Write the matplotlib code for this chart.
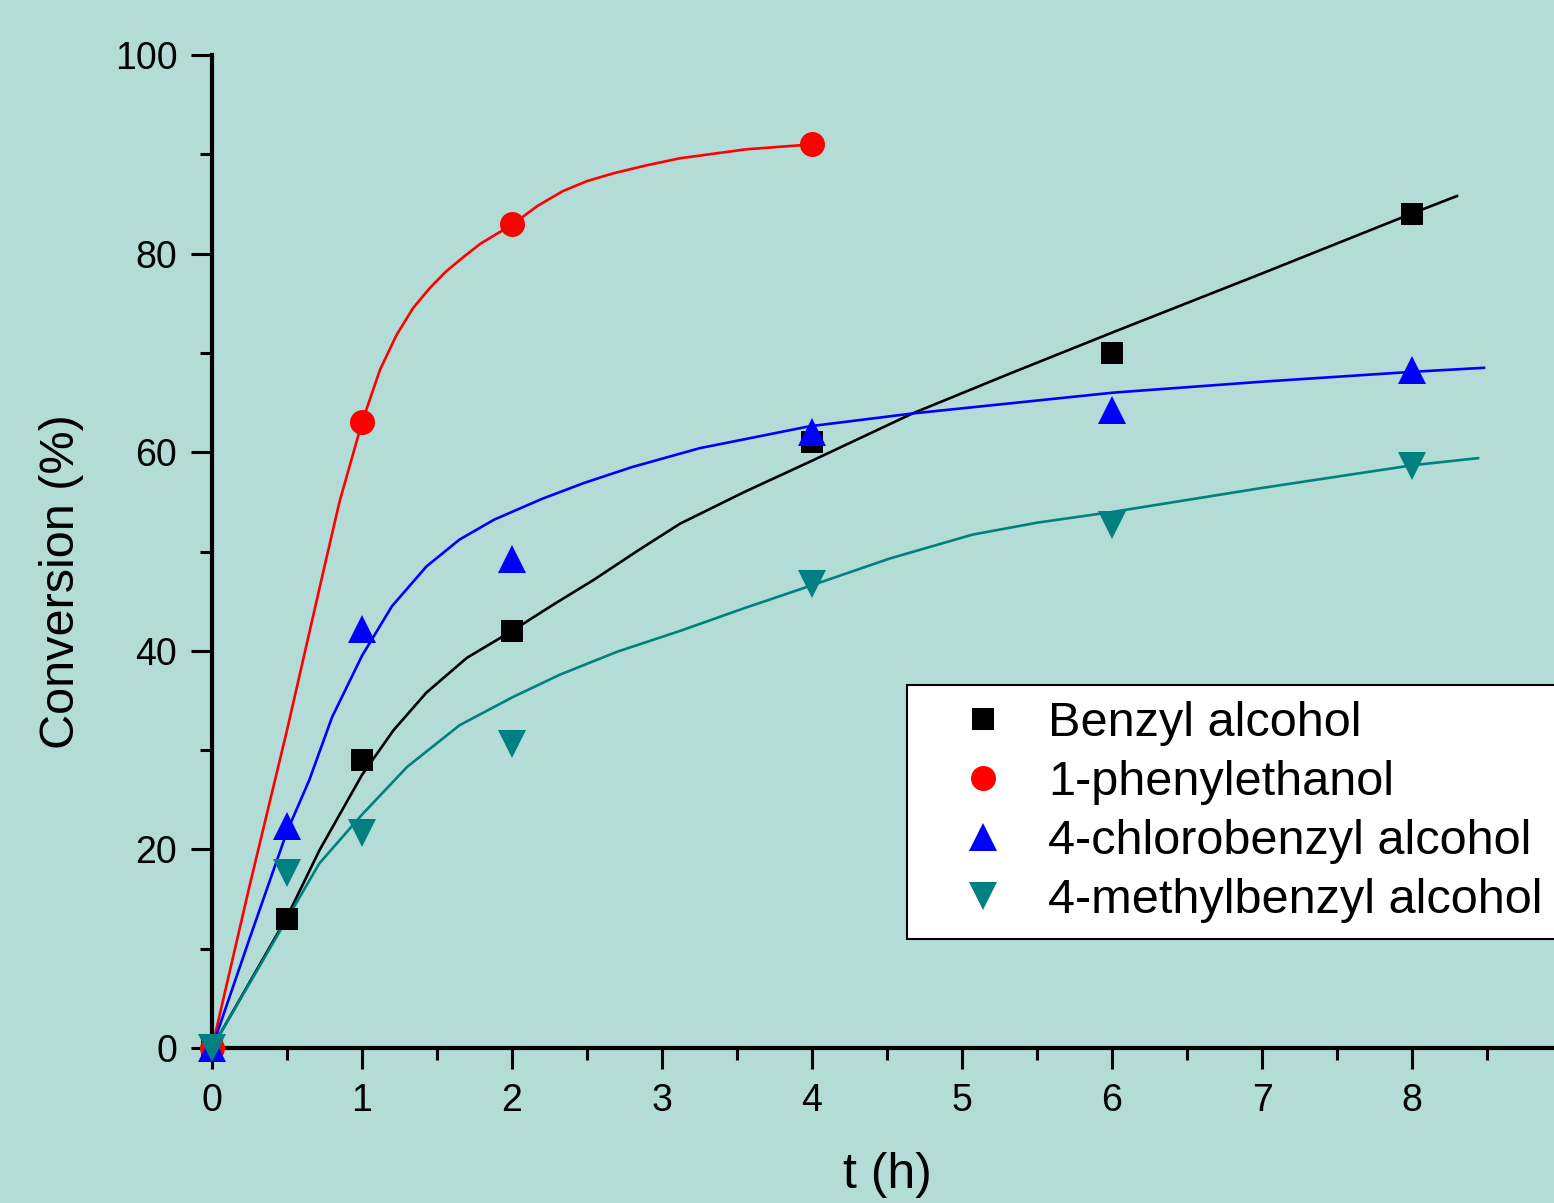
import matplotlib
matplotlib.use("Agg")
import matplotlib.pyplot as plt
from matplotlib.ticker import MultipleLocator

plt.rcParams['font.family'] = ['Liberation Sans', 'DejaVu Sans']

# ---- measured data points ----
t_benzyl = [0, 0.5, 1, 2, 4, 6, 8]
conv_benzyl = [0, 13, 29, 42, 61, 70, 84]
t_phenyl = [0, 1, 2, 4]
conv_phenyl = [0, 63, 83, 91]
t_chloro = [0, 0.5, 1, 2, 4, 6, 8]
conv_chloro = [0, 22.4, 42.2, 49.2, 62, 64.2, 68.3]
t_methyl = [0, 0.5, 1, 2, 4, 6, 8]
conv_methyl = [0, 17.6, 21.7, 30.6, 46.7, 52.7, 58.6]

# ---- fitted curves ----
fit_t_benzyl = [0, 0.25, 0.5, 0.716, 1.0, 1.21, 1.43, 1.7, 2.0, 2.27, 2.54, 2.83, 3.12, 3.55, 3.98, 4.67, 5.3, 6.01, 7.0, 8.01, 8.3]
fit_c_benzyl = [0, 6.6, 13.2, 19.9, 27.5, 32.0, 35.8, 39.3, 42.0, 44.6, 47.1, 50.0, 52.8, 56.0, 59.0, 63.9, 67.8, 72.1, 78.0, 84.1, 85.8]
fit_t_phenyl = [0, 0.25, 0.5, 0.75, 0.85, 1.0, 1.12, 1.23, 1.34, 1.45, 1.56, 1.68, 1.79, 1.9, 2.0, 2.17, 2.34, 2.5, 2.68, 2.9, 3.12, 3.56, 4.0]
fit_c_phenyl = [0, 16.3, 32, 48.5, 55, 63, 68.3, 71.8, 74.5, 76.5, 78.2, 79.7, 81.0, 82.0, 82.9, 84.8, 86.3, 87.3, 88.1, 88.9, 89.6, 90.5, 91.0]
fit_t_chloro = [0, 0.25, 0.5, 0.649, 0.8, 1.0, 1.2, 1.43, 1.65, 1.88, 2.2, 2.48, 2.8, 3.25, 3.98, 4.67, 6.01, 7.0, 8.01, 8.48]
fit_c_chloro = [0, 11, 21.8, 27, 33.3, 39.5, 44.5, 48.5, 51.2, 53.2, 55.3, 56.9, 58.5, 60.4, 62.6, 63.9, 66.0, 67.1, 68.1, 68.5]
fit_t_methyl = [0, 0.25, 0.5, 0.716, 1.0, 1.3, 1.65, 2.0, 2.32, 2.7, 3.12, 3.55, 3.98, 4.52, 5.07, 5.5, 6.01, 7.0, 8.01, 8.44]
fit_c_methyl = [0, 6.5, 13.0, 18.6, 23.5, 28.3, 32.5, 35.3, 37.6, 39.9, 42.0, 44.3, 46.5, 49.3, 51.7, 52.9, 54.0, 56.4, 58.7, 59.4]

labels = ['Benzyl alcohol', '1-phenylethanol', '4-chlorobenzyl alcohol', '4-methylbenzyl alcohol']
colors = ['#000000', '#ff0000', '#0000ff', '#008080']
x_ticks = [0, 1, 2, 3, 4, 5, 6, 7, 8]
y_ticks = [0, 20, 40, 60, 80, 100]

bg = '#b4dcd6'
W, H = 1554, 1203
fig = plt.figure(figsize=(W / 100, H / 100), dpi=100, facecolor=bg)
xmax = 8.97
ax = fig.add_axes([212 / W, 1 - 1048 / H, xmax * 150 / W, (1048 - 55) / H])
ax.set_facecolor(bg)
ax.set_xlim(0, xmax)
ax.set_ylim(0, 100)

series = [
    (t_benzyl, conv_benzyl, fit_t_benzyl, fit_c_benzyl, 's', 16),
    (t_phenyl, conv_phenyl, fit_t_phenyl, fit_c_phenyl, 'o', 18),
    (t_chloro, conv_chloro, fit_t_chloro, fit_c_chloro, '^', 20),
    (t_methyl, conv_methyl, fit_t_methyl, fit_c_methyl, 'v', 20),
]
handles = []
for (tx, cy, ft, fc, mk, ms), col, lab in zip(series, colors, labels):
    ax.plot(ft, fc, '-', color=col, lw=1.9, zorder=2, solid_joinstyle='round')
for (tx, cy, ft, fc, mk, ms), col, lab in zip(series, colors, labels):
    h, = ax.plot(tx, cy, linestyle='none', marker=mk, markersize=ms, color=col,
                 markeredgewidth=0, clip_on=False, zorder=3, label=lab)
    handles.append(h)

for s in ['top', 'right']:
    ax.spines[s].set_visible(False)
for s in ['left', 'bottom']:
    ax.spines[s].set_linewidth(3)

ax.set_xticks(x_ticks)
ax.set_yticks(y_ticks)
ax.xaxis.set_minor_locator(MultipleLocator(0.5))
ax.yaxis.set_minor_locator(MultipleLocator(10))
ax.tick_params(axis='both', which='major', direction='out', length=15, width=2.2,
               labelsize=27, pad=10)
ax.tick_params(axis='both', which='minor', direction='out', length=8.5, width=2.2)

fig.text(62 / W, 1 - 582 / H, 'Conversion (%)', rotation=90, ha='center', va='center', fontsize=35)
fig.text(887 / W, 1 - 1175 / H, 't (h)', ha='center', va='center', fontsize=36)

leg = fig.legend(handles=handles, labels=labels, loc='upper left',
                 bbox_to_anchor=(907 / W, 1 - 685 / H), bbox_transform=fig.transFigure,
                 borderaxespad=0, fontsize=35, frameon=True, fancybox=False,
                 handlelength=2.45, handletextpad=0.12, borderpad=0.33, labelspacing=0.29,
                 markerscale=1.0)
leg.get_frame().set_edgecolor('black')
leg.get_frame().set_linewidth(1.5)
leg.get_frame().set_facecolor('white')
leg.get_frame().set_alpha(1)

fig.savefig('out.png', dpi=100, facecolor=bg)
